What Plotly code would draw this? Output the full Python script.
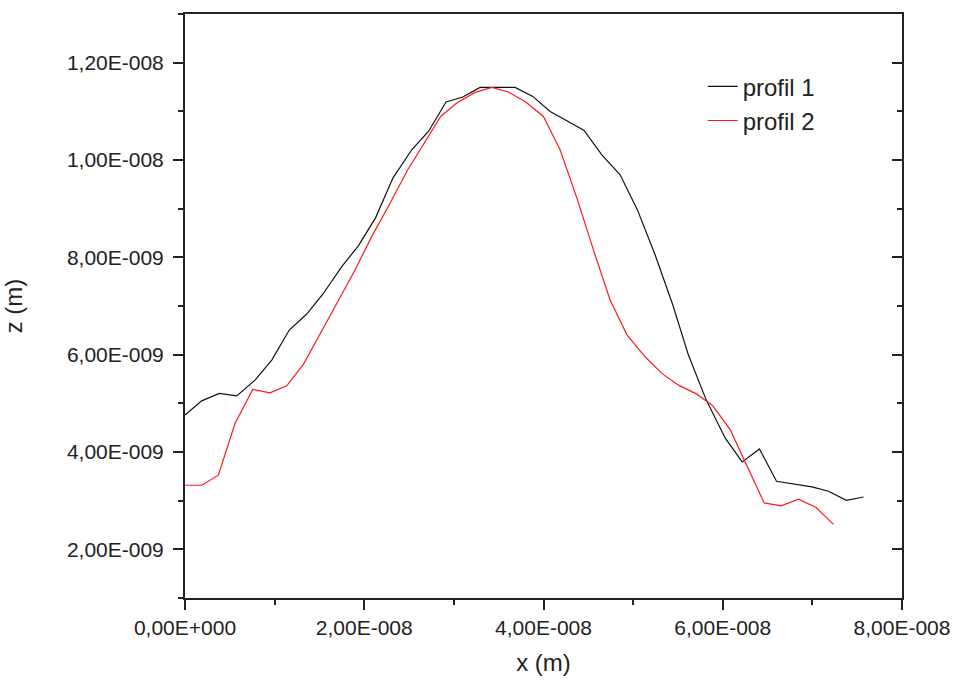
import plotly.graph_objects as go

# profil 1 (black)
x1 = [0.0, 0.186e-8, 0.383e-8, 0.577e-8, 0.781e-8, 0.968e-8, 1.164e-8, 1.358e-8, 1.544e-8, 1.749e-8,
      1.934e-8, 2.126e-8, 2.321e-8, 2.530e-8, 2.716e-8, 2.913e-8, 3.100e-8, 3.292e-8, 3.488e-8, 3.683e-8,
      3.881e-8, 4.074e-8, 4.260e-8, 4.453e-8, 4.651e-8, 4.855e-8, 5.048e-8, 5.246e-8, 5.443e-8, 5.617e-8,
      5.816e-8, 6.030e-8, 6.217e-8, 6.410e-8, 6.600e-8, 6.810e-8, 6.995e-8, 7.180e-8, 7.378e-8, 7.571e-8]
z1 = [4.757e-9, 5.051e-9, 5.204e-9, 5.154e-9, 5.477e-9, 5.889e-9, 6.506e-9, 6.835e-9, 7.257e-9, 7.809e-9,
      8.235e-9, 8.811e-9, 9.634e-9, 10.21e-9, 10.586e-9, 11.191e-9, 11.294e-9, 11.492e-9, 11.492e-9, 11.492e-9,
      11.307e-9, 10.998e-9, 10.807e-9, 10.607e-9, 10.107e-9, 9.695e-9, 8.975e-9, 8.049e-9, 7.021e-9, 5.992e-9,
      5.066e-9, 4.278e-9, 3.796e-9, 4.062e-9, 3.399e-9, 3.331e-9, 3.282e-9, 3.193e-9, 3.008e-9, 3.076e-9]

# profil 2 (red)
x2 = [0.0, 0.186e-8, 0.372e-8, 0.558e-8, 0.756e-8, 0.949e-8, 1.135e-8, 1.321e-8, 1.507e-8, 1.702e-8,
      1.897e-8, 2.081e-8, 2.269e-8, 2.474e-8, 2.667e-8, 2.853e-8, 3.039e-8, 3.237e-8, 3.423e-8, 3.608e-8,
      3.802e-8, 3.999e-8, 4.185e-8, 4.372e-8, 4.557e-8, 4.743e-8, 4.933e-8, 5.134e-8, 5.320e-8, 5.506e-8,
      5.711e-8, 5.887e-8, 6.083e-8, 6.272e-8, 6.462e-8, 6.652e-8, 6.845e-8, 7.042e-8, 7.235e-8]
z2 = [3.317e-9, 3.317e-9, 3.523e-9, 4.586e-9, 5.286e-9, 5.216e-9, 5.360e-9, 5.800e-9, 6.424e-9, 7.082e-9,
      7.741e-9, 8.420e-9, 9.043e-9, 9.763e-9, 10.348e-9, 10.895e-9, 11.183e-9, 11.389e-9, 11.492e-9, 11.397e-9,
      11.191e-9, 10.895e-9, 10.210e-9, 9.222e-9, 8.152e-9, 7.123e-9, 6.403e-9, 5.957e-9, 5.615e-9, 5.374e-9,
      5.189e-9, 4.953e-9, 4.459e-9, 3.708e-9, 2.953e-9, 2.895e-9, 3.029e-9, 2.858e-9, 2.514e-9]

x_tickvals = [0, 2e-8, 4e-8, 6e-8, 8e-8]
x_ticktext = ["0,00E+000", "2,00E-008", "4,00E-008", "6,00E-008", "8,00E-008"]
y_tickvals = [2e-9, 4e-9, 6e-9, 8e-9, 1.0e-8, 1.2e-8]
y_ticktext = ["2,00E-009", "4,00E-009", "6,00E-009", "8,00E-009", "1,00E-008", "1,20E-008"]

FONT = "Liberation Sans, Arial, sans-serif"
AX = "#222222"

fig = go.Figure()
fig.add_trace(go.Scatter(x=x1, y=z1, mode="lines", name="profil 1",
                         line=dict(color="#111111", width=1.2)))
fig.add_trace(go.Scatter(x=x2, y=z2, mode="lines", name="profil 2",
                         line=dict(color="#ff1a1a", width=1.2)))

fig.update_layout(
    width=956, height=681,
    margin=dict(l=185, r=54, t=14, b=83),
    paper_bgcolor="white", plot_bgcolor="white",
    font=dict(family=FONT, color=AX, size=21),
    showlegend=True,
    legend=dict(x=0.722, y=0.914, xanchor="left", yanchor="top",
                font=dict(size=24, color=AX), bgcolor="rgba(0,0,0,0)",
                tracegroupgap=0),
    xaxis=dict(range=[0, 8e-8], tickvals=x_tickvals, ticktext=x_ticktext,
               ticks="outside", ticklen=10, tickwidth=1.5, tickcolor=AX,
               minor=dict(dtick=1e-8, ticks="outside", ticklen=5, tickwidth=1.5, tickcolor=AX),
               showline=True, linewidth=2, linecolor=AX, mirror=True,
               showgrid=False, zeroline=False, automargin=False,
               ticklabeloverflow="allow",
               tickfont=dict(size=21),
               title=dict(text="x (m)", font=dict(size=24), standoff=16)),
    yaxis=dict(range=[1e-9, 1.3e-8], tickvals=y_tickvals, ticktext=y_ticktext,
               ticks="outside", ticklen=10, tickwidth=1.5, tickcolor=AX,
               minor=dict(dtick=1e-9, tick0=0, ticks="outside", ticklen=5, tickwidth=1.5, tickcolor=AX),
               showline=True, linewidth=2, linecolor=AX, mirror=True,
               showgrid=False, zeroline=False, automargin=False,
               tickfont=dict(size=21), ticklabelstandoff=5,
               title=dict(text="z (m)", font=dict(size=24), standoff=46)),
    yaxis2=dict(range=[1e-9, 1.3e-8], overlaying="y", side="right",
                tickvals=y_tickvals, showticklabels=False,
                ticks="inside", ticklen=10, tickwidth=1.5, tickcolor=AX,
                minor=dict(dtick=1e-9, tick0=0, ticks="inside", ticklen=5, tickwidth=1.5, tickcolor=AX),
                showline=False, showgrid=False, zeroline=False, automargin=False),
)
fig.add_trace(go.Scatter(x=[None], y=[None], yaxis="y2", showlegend=False, hoverinfo="skip"))

fig.write_html("out.html", config={"displayModeBar": False},
               post_script="document.body.style.margin='0';document.body.style.overflow='hidden';")
